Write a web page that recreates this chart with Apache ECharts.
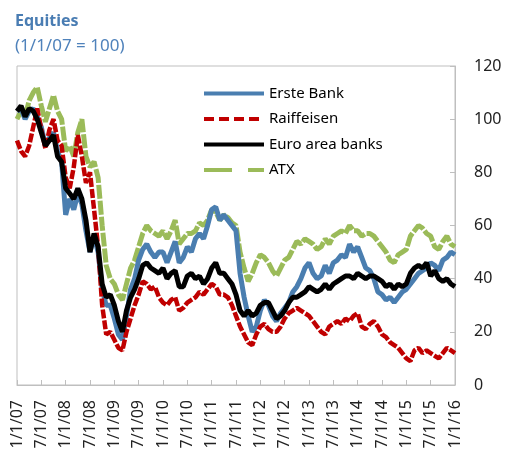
<!DOCTYPE html>
<html>
<head>
<meta charset="utf-8">
<script src="https://cdn.jsdelivr.net/npm/echarts@6/dist/echarts.min.js"></script>
<style>
  html, body { margin: 0; padding: 0; background: #fff; }
  #showChart { width: 506px; height: 452px; }
</style>
</head>
<body>
<div id="showChart"></div>
<script>
// monthly readings, Jan 2007 .. Jan 2016 (1/1/07 = 100)
var erste = [
    103, 104, 100, 103, 104, 101, 97, 90, 93, 95, 88, 84,
    64, 70, 66, 72, 68, 58, 50, 56, 50, 36, 30, 30,
    25, 19, 17, 26, 36, 40, 47, 51, 53, 50, 48, 50,
    50, 46, 50, 54, 46, 48, 52, 50, 55, 57, 55, 60,
    66, 67, 62, 64, 62, 60, 58, 42, 33, 26, 20, 22,
    28, 32, 30, 26, 24, 27, 29, 31, 35, 37, 40, 44,
    46, 42, 40, 41, 45, 42, 46, 47, 49, 48, 53, 50,
    52, 48, 44, 43, 40, 35, 34, 32, 33, 31, 33, 35,
    36, 38, 40, 42, 43, 44, 46, 45, 43, 47, 48, 50,
    49
];
var raiffeisen = [
    92, 88, 86, 90, 97, 104, 96, 89, 96, 100, 92, 90,
    78, 74, 82, 94, 86, 76, 80, 66, 52, 30, 19, 20,
    17, 14, 13, 20, 25, 30, 34, 39, 38, 36, 37, 33,
    31, 30, 32, 33, 28, 29, 31, 32, 33, 35, 34, 36,
    38, 37, 34, 34, 33, 30, 26, 22, 19, 16, 15, 19,
    22, 23, 21, 20, 20, 22, 25, 27, 28, 29, 28, 27,
    26, 24, 22, 20, 19, 22, 23, 24, 23, 25, 24, 26,
    27, 22, 21, 23, 24, 22, 19, 18, 16, 15, 14, 12,
    10, 9, 13, 14, 12, 13, 12, 11, 10, 12, 14, 13,
    12
];
var euroBanks = [
    103, 105, 101, 104, 103, 100, 95, 90, 92, 94, 86, 84,
    74, 72, 70, 74, 70, 62, 50, 57, 52, 38, 33, 34,
    30, 24, 20, 28, 33, 36, 40, 45, 46, 44, 43, 42,
    44, 40, 42, 43, 37, 37, 41, 42, 40, 41, 38, 40,
    44, 46, 42, 42, 40, 38, 34, 28, 26, 28, 26, 27,
    30, 31, 31, 28, 25, 26, 28, 31, 33, 33, 34, 35,
    37, 36, 35, 36, 38, 36, 38, 39, 40, 41, 41, 40,
    42, 41, 40, 41, 41, 40, 39, 37, 38, 36, 38, 37,
    38, 42, 44, 45, 44, 46, 41, 43, 40, 39, 40, 38,
    37
];
var atx = [
    100, 103, 101, 107, 110, 112, 105, 99, 104, 109, 103, 100,
    88, 90, 86, 95, 100, 86, 82, 84, 78, 60, 45, 40,
    38, 34, 32, 38, 44, 47, 52, 57, 60, 58, 57, 56,
    58, 55, 58, 62, 53, 55, 57, 57, 58, 61, 60, 62,
    66, 65, 62, 64, 63, 61, 60, 50, 44, 39, 42, 46,
    49, 48, 46, 43, 41, 44, 47, 48, 51, 54, 53, 55,
    54, 53, 51, 52, 55, 53, 56, 57, 58, 57, 60, 58,
    58, 56, 57, 57, 56, 54, 52, 50, 47, 46, 49, 50,
    51, 56, 58, 60, 59, 57, 56, 52, 51, 54, 56, 53,
    52
];
var yTicks = [0, 20, 40, 60, 80, 100, 120];

// month labels m/1/yy
var months = [];
for (var i = 0; i < erste.length; i++) {
    var m = i % 12 + 1;
    var y = 7 + Math.floor(i / 12);
    months.push(m + '/1/' + (y < 10 ? '0' + y : y));
}

var font = 'Noto Sans';

option = {
    animation: false,
    textStyle: { fontFamily: font },
    title: [{
        text: 'Equities',
        left: 10,
        top: 8,
        textStyle: { fontFamily: font, fontSize: 16, fontWeight: 'bold', color: '#4a7db3' }
    }, {
        text: '(1/1/07 = 100)',
        left: 10,
        top: 33,
        textStyle: { fontFamily: font, fontSize: 17, fontWeight: 'normal', color: '#4f82bb' }
    }],
    legend: {
        orient: 'vertical',
        left: 197,
        top: 81,
        itemWidth: 60,
        itemHeight: 14,
        itemGap: 10.5,
        itemStyle: { opacity: 0 },
        textStyle: { fontFamily: font, fontSize: 15, color: '#000' },
        data: [
            { name: 'Erste Bank', lineStyle: { width: 4 } },
            { name: 'Raiffeisen', lineStyle: { width: 4, type: [10, 5] } },
            { name: 'Euro area banks', lineStyle: { width: 4 } },
            { name: 'ATX', lineStyle: { width: 4, type: [28, 16] } }
        ]
    },
    grid: {
        left: 17,
        right: 51,
        top: 66,
        bottom: 67,
        show: true,
        borderColor: '#bfbfbf',
        borderWidth: 1
    },
    xAxis: {
        type: 'category',
        data: months,
        boundaryGap: false,
        axisLine: { lineStyle: { color: '#bfbfbf' } },
        axisTick: { inside: true, length: 5, interval: 5, lineStyle: { color: '#bfbfbf' } },
        axisLabel: {
            interval: 5,
            rotate: 90,
            margin: 15,
            fontSize: 16,
            color: '#222',
            fontFamily: font
        },
        splitLine: { show: false }
    },
    yAxis: {
        type: 'value',
        position: 'right',
        min: yTicks[0],
        max: yTicks[yTicks.length - 1],
        interval: 20,
        axisLine: { show: true, lineStyle: { color: '#bfbfbf' } },
        axisTick: { show: true, inside: true, length: 5, lineStyle: { color: '#bfbfbf' } },
        axisLabel: { margin: 19, fontSize: 16, color: '#222', fontFamily: font },
        splitLine: { show: false }
    },
    series: [{
        name: 'Erste Bank',
        type: 'line',
        symbol: 'none',
        z: 3,
        lineStyle: { color: '#4a7eb0', width: 5 },
        itemStyle: { color: '#4a7eb0' },
        data: erste
    }, {
        name: 'Raiffeisen',
        type: 'line',
        symbol: 'none',
        z: 4,
        lineStyle: { color: '#c00000', width: 4.5, type: [9, 2] },
        itemStyle: { color: '#c00000' },
        data: raiffeisen
    }, {
        name: 'Euro area banks',
        type: 'line',
        symbol: 'none',
        z: 5,
        lineStyle: { color: '#000000', width: 5 },
        itemStyle: { color: '#000000' },
        data: euroBanks
    }, {
        name: 'ATX',
        type: 'line',
        symbol: 'none',
        z: 2,
        lineStyle: { color: '#9bbb59', width: 5, type: [14, 2] },
        itemStyle: { color: '#9bbb59' },
        data: atx
    }]
};

var chartOutChar = echarts.init(document.getElementById('showChart'));
chartOutChar.setOption(option);
</script>
</body>
</html>
